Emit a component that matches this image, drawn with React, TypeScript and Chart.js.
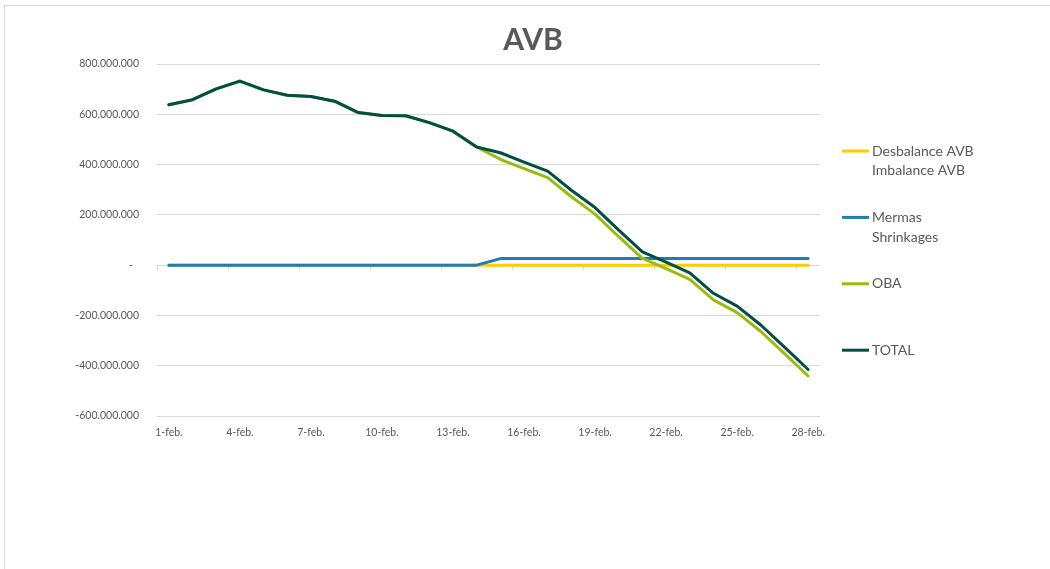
import React, { useEffect, useRef } from "react";
import { Chart, registerables } from "chart.js";

Chart.register(...registerables);

const categories = [
  "1-feb.", "2-feb.", "3-feb.", "4-feb.", "5-feb.", "6-feb.", "7-feb.",
  "8-feb.", "9-feb.", "10-feb.", "11-feb.", "12-feb.", "13-feb.", "14-feb.",
  "15-feb.", "16-feb.", "17-feb.", "18-feb.", "19-feb.", "20-feb.", "21-feb.",
  "22-feb.", "23-feb.", "24-feb.", "25-feb.", "26-feb.", "27-feb.", "28-feb.",
];

// values in millions
const imbalance = [
  0, 0, 0, 0, 0, 0, 0, 0, 0, 0, 0, 0, 0, 0,
  0, 0, 0, 0, 0, 0, 0, 0, 0, 0, 0, 0, 0, 0,
];
const mermas = [
  0, 0, 0, 0, 0, 0, 0, 0, 0, 0, 0, 0, 0, 0,
  26, 26, 26, 26, 26, 26, 26, 26, 26, 26, 26, 26, 26, 26,
];
const oba = [
  638, 658, 701, 732, 697, 676, 671, 652, 607, 595, 594, 567, 533, 470,
  421, 384, 348, 272, 203, 113, 27, -14, -57, -138, -189, -264, -352, -441,
];
const total = [
  638, 658, 701, 732, 697, 676, 671, 652, 607, 595, 594, 567, 533, 470,
  447, 410, 374, 298, 229, 139, 53, 12, -31, -112, -163, -238, -326, -415,
];

const seriesLabels: string[][] = [
  ["Desbalance AVB", "Imbalance AVB"],
  ["Mermas", "Shrinkages"],
  ["OBA"],
  ["TOTAL"],
];
const seriesColors = ["#FFCC00", "#1F7DB3", "#9BBB0C", "#004F47"];

const yMin = -600;
const yMax = 800;
const yStep = 200;

const FONT = "Lato, 'Liberation Sans', sans-serif";
const TEXT = "#595959";
const GRID = "#D9D9D9";

function fmt(v: number): string {
  if (v === 0) return "-\u2007";
  const s = String(Math.abs(v) * 1000000).replace(/\B(?=(\d{3})+(?!\d))/g, ".");
  return (v < 0 ? "-" : "") + s;
}

const legendPlugin = {
  id: "customLegend",
  afterDraw(chart: any) {
    const ctx = chart.ctx;
    const area = chart.chartArea;
    const x0 = area.right + 22;
    const startY = 151;
    const step = 66.4;
    const lineH = 19.6;
    ctx.save();
    ctx.font = `14px ${FONT}`;
    ctx.textBaseline = "middle";
    ctx.textAlign = "left";
    chart.data.datasets.forEach((ds: any, i: number) => {
      const y = startY + i * step;
      ctx.strokeStyle = ds.borderColor;
      ctx.lineWidth = 3;
      ctx.beginPath();
      ctx.moveTo(x0, y);
      ctx.lineTo(x0 + 27, y);
      ctx.stroke();
      ctx.fillStyle = TEXT;
      const lines: string[] = ds.legendLines;
      lines.forEach((t, j) => ctx.fillText(t, x0 + 30, y + j * lineH));
    });
    ctx.restore();
  },
};

const tickMarkPlugin = {
  id: "zeroTicks",
  beforeDatasetsDraw(chart: any) {
    const xs = chart.scales.x;
    const ys = chart.scales.y;
    const y0 = ys.getPixelForValue(0);
    const ctx = chart.ctx;
    ctx.save();
    ctx.strokeStyle = GRID;
    ctx.lineWidth = 1;
    const n = categories.length;
    const half = (xs.getPixelForValue(1) - xs.getPixelForValue(0)) / 2;
    for (let i = 0; i <= n; i += 3) {
      const x = Math.round(xs.getPixelForValue(Math.min(i, n - 1)) + (i < n ? -half : half)) + 0.5;
      ctx.beginPath();
      ctx.moveTo(x, y0);
      ctx.lineTo(x, y0 + 5);
      ctx.stroke();
    }
    ctx.restore();
  },
};

export default function App() {
  const ref = useRef<HTMLCanvasElement | null>(null);

  useEffect(() => {
    document.body.style.margin = "0";
    document.body.style.overflow = "hidden";
    if (!ref.current) return;
    const series = [imbalance, mermas, oba, total];
    const chart = new Chart(ref.current, {
      type: "line",
      data: {
        labels: categories,
        datasets: series.map((d, i) => ({
          label: seriesLabels[i].join(" "),
          legendLines: seriesLabels[i],
          data: d,
          borderColor: seriesColors[i],
          backgroundColor: seriesColors[i],
          borderWidth: 3,
          pointRadius: 0,
          pointHoverRadius: 0,
          tension: 0,
          borderJoinStyle: "round",
          borderCapStyle: "round",
          fill: false,
          order: 3 - i,
        })) as any,
      },
      options: {
        responsive: false,
        animation: false,
        layout: { padding: { left: 16, right: 0, top: 0, bottom: 123 } },
        plugins: {
          legend: { display: false },
          tooltip: { enabled: false },
          title: {
            display: true,
            text: "AVB",
            color: TEXT,
            font: { family: FONT, size: 30, weight: "bold", lineHeight: 1.2 },
            padding: { top: 22, bottom: 6 },
          },
        },
        scales: {
          x: {
            type: "category",
            offset: true,
            grid: { display: false, drawTicks: false },
            border: { display: false },
            ticks: {
              autoSkip: false,
              maxRotation: 0,
              minRotation: 0,
              padding: 10,
              color: TEXT,
              font: { family: FONT, size: 10.5 },
              callback: (_v: any, idx: number) => (idx % 3 === 0 ? categories[idx] : ""),
            },
            afterFit: (s: any) => {
              s.height = 30;
            },
          },
          y: {
            type: "linear",
            position: "left",
            min: yMin,
            max: yMax,
            grid: { color: GRID, lineWidth: 1, drawTicks: false },
            border: { display: false },
            ticks: {
              stepSize: yStep,
              padding: 18,
              color: TEXT,
              font: { family: FONT, size: 10.5 },
              callback: (v: any) => fmt(Number(v)),
            },
            afterFit: (s: any) => {
              s.width = 141;
            },
          },
          yRight: {
            type: "linear",
            position: "right",
            display: true,
            grid: { display: false, drawTicks: false },
            border: { display: false },
            ticks: { display: false },
            afterFit: (s: any) => {
              s.width = 230;
            },
          },
        },
      } as any,
      plugins: [legendPlugin, tickMarkPlugin],
    });
    return () => chart.destroy();
  }, []);

  return (
    <div style={{ position: "relative", width: 1050, height: 569, overflow: "hidden", background: "#fff" }}>
      <div
        style={{
          position: "absolute",
          left: 4,
          top: 5,
          width: 1100,
          height: 620,
          border: "1px solid #D9D9D9",
          boxSizing: "border-box",
        }}
      />
      <canvas ref={ref} width={1050} height={569} style={{ position: "absolute", left: 0, top: 0 }} />
    </div>
  );
}
